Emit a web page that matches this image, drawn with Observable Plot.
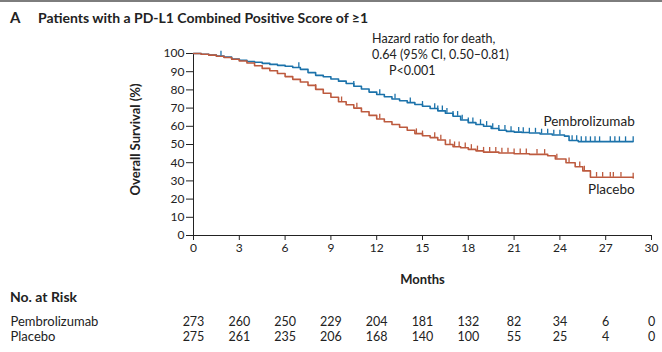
<!DOCTYPE html>
<html><head><meta charset="utf-8">
<script src="https://cdn.jsdelivr.net/npm/d3@7"></script>
<script src="https://cdn.jsdelivr.net/npm/@observablehq/plot@0.6"></script>
<style>
body{margin:0;background:#fff;font-family:Lato,"Open Sans",sans-serif;color:#222}
#wrap{width:662px;height:352px;box-sizing:border-box;border-top:2px solid #7d7d7d;position:relative;overflow:hidden}
#title{height:24px;line-height:31px;font-weight:bold;font-size:14px;white-space:nowrap}
#title .a{display:inline-block;width:28px;padding-left:10px;font-size:15px}
#hdr{height:18px;line-height:20px;font-weight:bold;font-size:14px;padding-left:10px}
svg{display:block}
</style></head>
<body><div id="wrap">
<div id="title"><span class="a">A</span>Patients with a PD-L1 Combined Positive Score of ≥1</div>
<div id="main"></div>
<div id="hdr">No. at Risk</div>
<div id="risk"></div>
</div>
<script>
// Kaplan–Meier curves (months, % surviving)
const pembroMonths   = [0,0.5,1.0,1.5,2.0,2.5,3.0,3.5,4.0,4.5,5.0,5.5,6.0,6.5,7.0,7.5,8.0,8.5,9.0,9.5,10.0,10.5,11.0,11.5,12.0,12.5,13.0,13.5,14.0,14.5,15.0,15.5,16.0,16.5,17.0,17.5,18.0,18.5,19.0,19.5,20.0,20.5,21.0,21.5,22.0,22.7,23.5,24.3,24.6,25.2,28.8];
const pembroSurvival = [100,99.6,99.2,98.6,98.0,97.0,96.3,95.6,95.2,94.6,94.0,93.5,93.0,92.3,91.3,89.5,88.0,87.2,86.0,84.8,83.5,82.0,80.5,78.8,77.5,76.2,75.0,74.0,73.0,72.0,71.0,69.8,68.5,67.2,65.5,63.5,62.0,61.0,60.0,58.8,57.8,57.2,56.8,56.6,56.3,55.8,55.2,54.6,52.2,51.6,51.6];
const placeboMonths   = [0,0.5,1,1.5,2,2.5,3,3.5,4,4.5,5,5.5,6,6.5,7,7.5,8,8.5,9,9.5,10,10.5,11,11.5,12,12.5,13,13.5,14,14.5,15,15.5,16,16.5,17,17.5,18,18.5,19,20,21,22,23.2,23.7,24.4,25.0,25.5,26.0,28.8];
const placeboSurvival = [100,99.6,99.1,98.5,97.8,96.8,95.9,94.8,93.3,91.8,90.5,89.0,87.3,85.8,84.3,82.5,80.3,78.2,76.0,73.5,71.8,70.0,68.0,66.0,64.0,62.5,61.0,59.5,57.8,56.0,54.8,53.8,52.5,50.0,48.8,48.2,47.3,46.5,45.8,45.3,44.9,44.6,43.8,42.0,40.0,37.8,35.5,32.0,31.6];
// censoring marks (months)
const pembroCensored  = [1.8,6.9,10.5,12.2,13.2,14.2,15.0,15.8,16.0,16.3,16.6,17.0,17.3,17.6,18.0,18.3,18.8,19.2,19.6,20.0,20.4,20.8,21.3,21.6,22.0,22.4,22.8,23.2,23.6,24.0,24.8,25.1,25.4,25.7,26.0,26.3,26.6,27.3,27.6,27.9,28.3,28.8];
const placeboCensored = [8.0,9.7,10.7,12.2,14.6,15.0,15.8,16.2,16.8,17.1,17.4,17.8,18.2,18.6,19.0,19.4,19.8,20.2,20.6,21.0,21.4,21.8,22.5,23.0,23.8,24.6,25.3,25.6,26.4,26.8,27.3,27.5,28.0,28.8];
// number at risk
const riskMonths  = [0,3,6,9,12,15,18,21,24,27,30];
const pembroRisk  = [273,260,250,229,204,181,132,82,34,6,0];
const placeboRisk = [275,261,235,206,168,140,100,55,25,4,0];
const groups = ["Pembrolizumab","Placebo"];
const colors = ["#1b72aa","#bd5a3e"];
const xTicks = [0,3,6,9,12,15,18,21,24,27,30];
const yTicks = [0,10,20,30,40,50,60,70,80,90,100];
const annotation = ["Hazard ratio for death,","0.64 (95% CI, 0.50–0.81)","P<0.001"];

const curve = [
  ...pembroMonths.map((m,i)=>({group:groups[0],month:m,surv:pembroSurvival[i]})),
  ...placeboMonths.map((m,i)=>({group:groups[1],month:m,surv:placeboSurvival[i]}))
];
function survAt(months, surv, t){let v=surv[0];for(let i=0;i<months.length;i++){if(months[i]<=t)v=surv[i];}return v;}
const censor = [
  ...pembroCensored.map(t=>({group:groups[0],month:t,surv:survAt(pembroMonths,pembroSurvival,t)})),
  ...placeboCensored.map(t=>({group:groups[1],month:t,surv:survAt(placeboMonths,placeboSurvival,t)}))
];
const color = {domain:groups, range:colors};
const font = "Lato, 'Open Sans', sans-serif";

const main = Plot.plot({
  width:662, height:261,
  marginTop:27, marginBottom:52, marginLeft:193, marginRight:11,
  style:{fontFamily:font, fontSize:"12px", color:"#222", background:"#fff"},
  x:{domain:[0,30]}, y:{domain:[0,100]}, color,
  marks:[
    Plot.axisY({ticks:yTicks, tickSize:7, tickPadding:2, label:null, fontSize:12}),
    Plot.axisX({ticks:xTicks, tickSize:5, tickPadding:3, label:null, fontSize:12}),
    Plot.ruleX([0],{stroke:"#222"}),
    Plot.ruleY([0],{stroke:"#222"}),
    Plot.line(curve,{x:"month",y:"surv",z:"group",stroke:"group",curve:"step-after",strokeWidth:1.6}),
    Plot.ruleX(censor,{x:"month",y1:"surv",y2:d=>d.surv+2.6,stroke:"group",strokeWidth:1.3}),
    Plot.text(["Pembrolizumab"],{x:28.9,y:62.5,text:d=>d,textAnchor:"end",fontSize:13.5,fill:"#222",style:"letter-spacing:0.4px"}),
    Plot.text(["Placebo"],{x:28.9,y:25.3,text:d=>d,textAnchor:"end",fontSize:13.5,fill:"#222",style:"letter-spacing:0.4px"}),
    Plot.text([annotation[0]],{x:11.7,y:107.8,text:d=>d,textAnchor:"start",fontSize:12.5,fill:"#222",style:"letter-spacing:0.3px"}),
    Plot.text([annotation[1]],{x:11.7,y:99.2,text:d=>d,textAnchor:"start",fontSize:12.5,fill:"#222",style:"letter-spacing:0.6px"}),
    Plot.text([annotation[2]],{x:12.8,y:90.4,text:d=>d,textAnchor:"start",fontSize:12.5,fill:"#222",style:"letter-spacing:0.3px"}),
    Plot.text(["Overall Survival (%)"],{frameAnchor:"left",textAnchor:"middle",lineAnchor:"middle",rotate:-90,dx:-58,dy:-5,text:d=>d,fontWeight:"bold",fontSize:13,fill:"#222"}),
    Plot.text(["Months"],{frameAnchor:"bottom",lineAnchor:"middle",dy:44,text:d=>d,fontWeight:"bold",fontSize:13,fill:"#222"})
  ]
});
document.getElementById("main").append(main);

const risk = [
  ...riskMonths.map((m,i)=>({row:0,month:m,n:pembroRisk[i]})),
  ...riskMonths.map((m,i)=>({row:1,month:m,n:placeboRisk[i]}))
];
const riskPlot = Plot.plot({
  width:662, height:47,
  marginTop:0, marginBottom:0, marginLeft:193, marginRight:11,
  style:{fontFamily:font, fontSize:"12px", color:"#222", background:"#fff"},
  x:{domain:[0,30], axis:null},
  y:{domain:[0,1], range:[16,31], axis:null},
  marks:[
    Plot.text(risk,{x:"month",y:"row",text:"n",fontSize:12.5,fill:"#222",style:"letter-spacing:0.5px"}),
    Plot.text(groups,{y:(d,i)=>i,text:d=>d,frameAnchor:"left",textAnchor:"start",lineAnchor:"middle",dx:-183,fontSize:13,fill:"#222"})
  ]
});
document.getElementById("risk").append(riskPlot);
</script>
</body></html>
